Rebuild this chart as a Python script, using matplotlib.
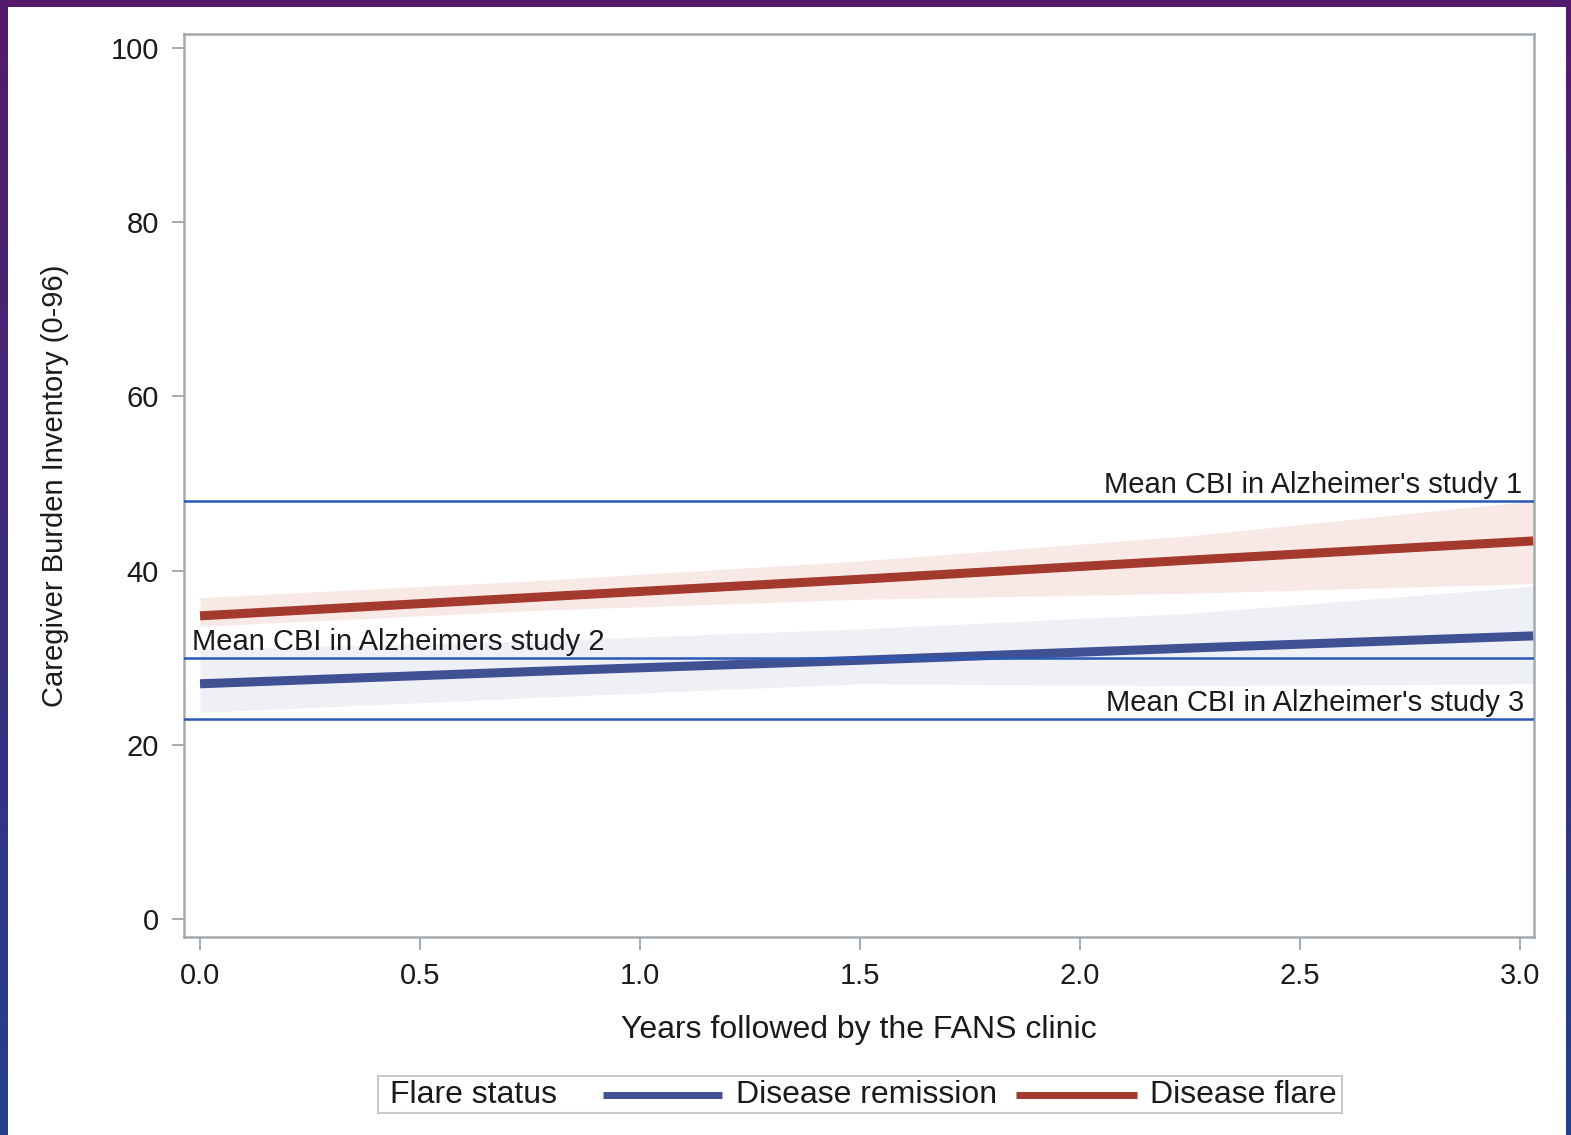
import numpy as np
import matplotlib
matplotlib.use("Agg")
import matplotlib.pyplot as plt
from matplotlib.lines import Line2D
from matplotlib.patches import Rectangle

# ---- data -------------------------------------------------------------
years = [0.0, 0.75, 1.5, 2.25, 3.03]

remission_mean = [27.0, 28.4, 29.7, 31.1, 32.5]
remission_lower = [23.7, 25.4, 27.0, 26.8, 27.0]
remission_upper = [31.0, 31.9, 33.3, 35.1, 38.2]

flare_mean = [34.8, 36.9, 39.0, 41.2, 43.4]
flare_lower = [33.6, 35.4, 36.7, 37.4, 38.5]
flare_upper = [36.9, 38.8, 41.1, 44.0, 48.0]

ref_values = [48, 30, 23]
ref_labels = ["Mean CBI in Alzheimer's study 1",
              "Mean CBI in Alzheimers study 2",
              "Mean CBI in Alzheimer's study 3"]

x_ticks = [0.0, 0.5, 1.0, 1.5, 2.0, 2.5, 3.0]
y_ticks = [0, 20, 40, 60, 80, 100]

series_names = ["Disease remission", "Disease flare"]
legend_title = "Flare status"

# ---- style ------------------------------------------------------------
plt.rcParams["font.family"] = ["Liberation Sans", "DejaVu Sans"]
FS = 21
FS_BIG = 23
W, H = 1571, 1135
BLUE = "#3f5093"
RED = "#a33a2d"
BLUE_BAND = "#eef0f6"
RED_BAND = "#f8e9e7"
REF = "#2a58b8"
FRAME = "#a3abaf"
TXT = "#1a1a1a"

fig = plt.figure(figsize=(W / 100, H / 100), dpi=100)

# slide background: purple-to-blue gradient with a white panel
bg = fig.add_axes([0, 0, 1, 1], zorder=-10)
grad = np.linspace(0, 1, 256).reshape(-1, 1)
top = np.array([0x56, 0x1a, 0x6c]) / 255
bot = np.array([0x23, 0x40, 0x8c]) / 255
img = top[None, None, :] * (1 - grad[:, :, None]) + bot[None, None, :] * grad[:, :, None]
bg.imshow(img, aspect="auto", extent=[0, 1, 0, 1], origin="upper")
bg.add_patch(Rectangle((8 / W, 0), (1566 - 8) / W, 1 - 7 / H,
                       facecolor="white", edgecolor="none"))
bg.set_xlim(0, 1)
bg.set_ylim(0, 1)
bg.axis("off")

ax = fig.add_axes([184 / W, 1 - 937 / H, (1534 - 184) / W, (937 - 34) / H])
ax.set_facecolor("white")

# confidence bands
ax.fill_between(years, remission_lower, remission_upper, color=BLUE_BAND, lw=0, zorder=1)
ax.fill_between(years, flare_lower, flare_upper, color=RED_BAND, lw=0, zorder=1)

# fitted trajectories
ax.plot(years, remission_mean, color=BLUE, lw=6.5, solid_capstyle="butt", zorder=3)
ax.plot(years, flare_mean, color=RED, lw=6.5, solid_capstyle="butt", zorder=3)

# reference means from Alzheimer's caregiver studies
ytrans = ax.get_yaxis_transform()
for v in ref_values:
    ax.axhline(v, color=REF, lw=1.8, zorder=4)
ax.annotate(ref_labels[0], xy=(0.991, ref_values[0]), xycoords=ytrans,
            xytext=(0, 2), textcoords="offset pixels", ha="right", va="bottom",
            fontsize=FS, color=TXT, zorder=5)
ax.annotate(ref_labels[1], xy=(0.006, ref_values[1]), xycoords=ytrans,
            xytext=(0, 2), textcoords="offset pixels", ha="left", va="bottom",
            fontsize=FS, color=TXT, zorder=5)
ax.annotate(ref_labels[2], xy=(0.993, ref_values[2]), xycoords=ytrans,
            xytext=(0, 2), textcoords="offset pixels", ha="right", va="bottom",
            fontsize=FS, color=TXT, zorder=5)

ax.set_xlim(-0.0364, 3.032)
ax.set_ylim(-2.07, 101.6)
ax.set_xticks(x_ticks)
ax.set_xticklabels([f"{t:.1f}" for t in x_ticks])
ax.set_yticks(y_ticks)
ax.tick_params(axis="both", length=9, width=1.4, color=FRAME, pad=9,
               labelsize=FS, labelcolor=TXT)
for s in ax.spines.values():
    s.set_color(FRAME)
    s.set_linewidth(1.8)

ax.set_xlabel("Years followed by the FANS clinic", fontsize=FS_BIG, color=TXT)
ax.set_ylabel("Caregiver Burden Inventory (0-96)", fontsize=FS, color=TXT)
ax.xaxis.label.set_va("center")
ax.xaxis.set_label_coords(0.5, -0.103)
ax.yaxis.label.set_va("center")
ax.yaxis.set_label_coords(-0.0956, 0.5)

# legend strip below the plot
ly = 1 - 1095 / H
fig.add_artist(Rectangle((378 / W, 1 - 1113 / H), (1342 - 378) / W, 37 / H,
                         transform=fig.transFigure, facecolor="white",
                         edgecolor="#c9c9c9", lw=1.5))
fig.text(390 / W, ly, legend_title, fontsize=FS_BIG, va="center", ha="left", color=TXT)
fig.add_artist(Line2D([603 / W, 722 / W], [ly, ly], transform=fig.transFigure,
                      color=BLUE, lw=5, solid_capstyle="butt"))
fig.text(736 / W, ly, series_names[0], fontsize=FS_BIG, va="center", ha="left", color=TXT)
fig.add_artist(Line2D([1016 / W, 1137 / W], [ly, ly], transform=fig.transFigure,
                      color=RED, lw=5, solid_capstyle="butt"))
fig.text(1150 / W, ly, series_names[1], fontsize=FS_BIG, va="center", ha="left", color=TXT)

fig.savefig("out.png", dpi=100)
